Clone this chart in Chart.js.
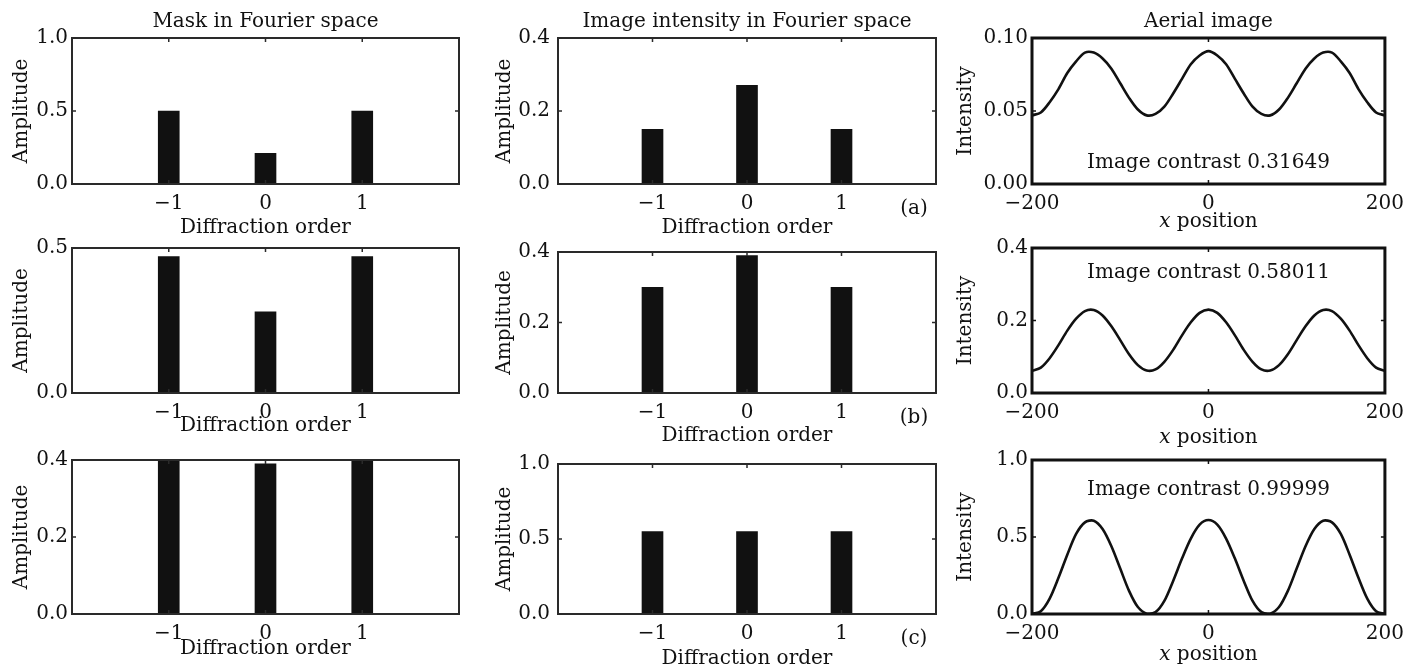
<!DOCTYPE html>
<html>
<head>
<meta charset="utf-8">
<title>Mask, image intensity and aerial image</title>
<script src="https://cdn.jsdelivr.net/npm/chart.js@4.4.1/dist/chart.umd.min.js"></script>
<style>
  html, body { margin: 0; padding: 0; background: #fff; }
  #wrap { position: relative; width: 1404px; height: 669px; overflow: hidden; }
  #wrap canvas { position: absolute; }
</style>
</head>
<body>
<div id="wrap"></div>
<script>
// diffraction orders and bar heights
const orders = [-1, 0, 1];
const orderTicks = [-1, 0, 1];

const maskA = [0.50, 0.21, 0.50];
const maskB = [0.47, 0.28, 0.47];
const maskC = [0.41, 0.39, 0.41];   // outer bars run past the top of the 0.4 axis

const spectrumA = [0.15, 0.27, 0.15];
const spectrumB = [0.30, 0.39, 0.30];
const spectrumC = [0.55, 0.55, 0.55];

// aerial image, sampled every 10 units of x
const xPos = [-200, -190, -180, -170, -160, -150, -140, -130, -120, -110, -100,
  -90, -80, -70, -60, -50, -40, -30, -20, -10, 0, 10, 20, 30, 40, 50, 60, 70, 80, 90,
  100, 110, 120, 130, 140, 150, 160, 170, 180, 190, 200];
const xTicks = [-200, 0, 200];

const aerialA = [0.047, 0.049, 0.056, 0.065, 0.076, 0.084, 0.090, 0.090, 0.086, 0.079, 0.069,
  0.059, 0.051, 0.047, 0.048, 0.053, 0.062, 0.072, 0.082, 0.088, 0.091, 0.088, 0.082, 0.072,
  0.062, 0.053, 0.048, 0.047, 0.051, 0.059, 0.069, 0.079, 0.086, 0.090, 0.090, 0.084, 0.076,
  0.065, 0.056, 0.049, 0.047];
const aerialB = [0.061, 0.070, 0.096, 0.132, 0.172, 0.205, 0.226, 0.229, 0.214, 0.184, 0.146,
  0.107, 0.077, 0.062, 0.065, 0.086, 0.119, 0.159, 0.195, 0.221, 0.230, 0.221, 0.195, 0.159,
  0.119, 0.086, 0.065, 0.062, 0.077, 0.107, 0.146, 0.184, 0.214, 0.229, 0.226, 0.205, 0.172,
  0.132, 0.096, 0.070, 0.061];
const aerialC = [0.000, 0.018, 0.100, 0.235, 0.385, 0.520, 0.595, 0.606, 0.552, 0.440, 0.295,
  0.150, 0.045, 0.002, 0.012, 0.085, 0.215, 0.360, 0.490, 0.580, 0.610, 0.580, 0.490, 0.360,
  0.215, 0.085, 0.012, 0.002, 0.045, 0.150, 0.295, 0.440, 0.552, 0.606, 0.595, 0.520, 0.385,
  0.235, 0.100, 0.018, 0.000];

const contrasts = ["0.31649", "0.58011", "0.99999"];
const tags = ["(a)", "(b)", "(c)"];

const yTicksMaskA = [0, 0.5, 1.0];
const yTicksMaskB = [0, 0.5];
const yTicksMaskC = [0, 0.2, 0.4];
const yTicksSpecA = [0, 0.2, 0.4];
const yTicksSpecB = [0, 0.2, 0.4];
const yTicksSpecC = [0, 0.5, 1.0];
const yTicksAerA = [0, 0.05, 0.10];
const yTicksAerB = [0, 0.2, 0.4];
const yTicksAerC = [0, 0.5, 1.0];

// ---- layout (pixels) ----
const FAMILY = "'DejaVu Serif', serif";
const SIZE = 20;
const LH = SIZE * 1.2;
const FONT = SIZE + "px " + FAMILY;
const INK = "#111";

const cols = [
  { plotL: 72, plotR: 459, yTitleX: 22, yPad: 4 },
  { plotL: 558, plotR: 936, yTitleX: 505, yPad: 8 },
  { plotL: 1032, plotR: 1387, yTitleX: 966, yPad: 4 }
];
const rows = [
  { plotT: 38, plotB: 184 },
  { plotT: 248, plotB: 393 },
  { plotT: 460, plotB: 614 }
];
const xTitleY = [[228, 228, 222], [426, 436, 438], [649, 659, 655]];
const colTitles = ["Mask in Fourier space", "Image intensity in Fourier space", "Aerial image"];

function fmtSigned(v) {
  return v < 0 ? "\u2212" + Math.abs(v) : String(v);
}

const decor = {
  id: "decor",
  afterDatasetsDraw(chart, args, o) {
    const ctx = chart.ctx, a = chart.chartArea;
    const sx = chart.scales.x, sy = chart.scales.y;
    ctx.save();
    ctx.strokeStyle = o.frameColor;
    ctx.lineWidth = o.frameWidth;
    ctx.strokeRect(a.left, a.top, a.right - a.left, a.bottom - a.top);
    // small inward ticks on all four sides
    ctx.lineWidth = 1.5;
    ctx.beginPath();
    sx.ticks.forEach(t => {
      const p = sx.getPixelForValue(t.value);
      ctx.moveTo(p, a.bottom); ctx.lineTo(p, a.bottom - 4);
      ctx.moveTo(p, a.top); ctx.lineTo(p, a.top + 4);
    });
    sy.ticks.forEach(t => {
      const p = sy.getPixelForValue(t.value);
      ctx.moveTo(a.left, p); ctx.lineTo(a.left + 4, p);
      ctx.moveTo(a.right, p); ctx.lineTo(a.right - 4, p);
    });
    ctx.stroke();

    ctx.fillStyle = INK;
    ctx.textBaseline = "middle";
    ctx.textAlign = "center";
    ctx.font = FONT;
    if (o.note) {
      ctx.fillText(o.note.text, sx.getPixelForValue(o.note.x), sy.getPixelForValue(o.note.y));
    }
    if (o.tag) {
      ctx.fillText(o.tag, a.right - 22, a.bottom + 25);
    }
    if (o.italicTitleY) {
      // "x position" with an italic x
      ctx.textAlign = "left";
      ctx.font = "italic " + FONT;
      const w1 = ctx.measureText("x").width;
      ctx.font = FONT;
      const w2 = ctx.measureText(" position").width;
      const x0 = (a.left + a.right) / 2 - (w1 + w2) / 2;
      ctx.font = "italic " + FONT;
      ctx.fillText("x", x0, o.italicTitleY);
      ctx.font = FONT;
      ctx.fillText(" position", x0 + w1, o.italicTitleY);
    }
    ctx.restore();
  }
};

const panels = [
  { r: 0, c: 0, kind: "bar", vals: maskA, yMax: 1.0, yTicks: yTicksMaskA, dec: 1 },
  { r: 0, c: 1, kind: "bar", vals: spectrumA, yMax: 0.4, yTicks: yTicksSpecA, dec: 1 },
  { r: 0, c: 2, kind: "line", vals: aerialA, yMax: 0.10, yTicks: yTicksAerA, dec: 2, noteY: 0.0145 },
  { r: 1, c: 0, kind: "bar", vals: maskB, yMax: 0.5, yTicks: yTicksMaskB, dec: 1 },
  { r: 1, c: 1, kind: "bar", vals: spectrumB, yMax: 0.4, yTicks: yTicksSpecB, dec: 1 },
  { r: 1, c: 2, kind: "line", vals: aerialB, yMax: 0.4, yTicks: yTicksAerB, dec: 1, noteY: 0.331 },
  { r: 2, c: 0, kind: "bar", vals: maskC, yMax: 0.4, yTicks: yTicksMaskC, dec: 1 },
  { r: 2, c: 1, kind: "bar", vals: spectrumC, yMax: 1.0, yTicks: yTicksSpecC, dec: 1 },
  { r: 2, c: 2, kind: "line", vals: aerialC, yMax: 1.0, yTicks: yTicksAerC, dec: 1, noteY: 0.805 }
];

const wrap = document.getElementById("wrap");
Chart.defaults.font.family = FAMILY;
Chart.defaults.font.size = SIZE;
Chart.defaults.color = INK;

panels.forEach(p => {
  const col = cols[p.c], row = rows[p.r];
  const padTop = p.r === 0 ? 0 : 16;
  const padRight = 25;
  const cx = Math.round(col.yTitleX - LH / 2);
  const cy = p.r === 0 ? 0 : row.plotT - padTop;
  const bottom = Math.round(xTitleY[p.r][p.c] + LH / 2);
  const cw = col.plotR + padRight - cx;
  const ch = bottom - cy;
  const yW = col.plotL - cx;
  const xH = bottom - row.plotB;

  const canvas = document.createElement("canvas");
  canvas.width = cw;
  canvas.height = ch;
  canvas.style.left = cx + "px";
  canvas.style.top = cy + "px";
  canvas.style.width = cw + "px";
  canvas.style.height = ch + "px";
  wrap.appendChild(canvas);

  const isBar = p.kind === "bar";
  const dataset = isBar
    ? {
        data: orders.map((o, i) => ({ x: o, y: p.vals[i] })),
        backgroundColor: INK,
        barThickness: 21,
        clip: 0
      }
    : {
        data: xPos.map((x, i) => ({ x: x, y: p.vals[i] })),
        borderColor: INK,
        borderWidth: 2.6,
        pointRadius: 0,
        tension: 0.3,
        fill: false
      };

  const xTickVals = isBar ? orderTicks : xTicks;

  new Chart(canvas.getContext("2d"), {
    type: isBar ? "bar" : "line",
    data: { datasets: [dataset] },
    options: {
      responsive: false,
      animation: false,
      events: [],
      layout: { padding: { top: padTop, right: padRight, left: 0, bottom: 0 } },
      plugins: {
        legend: { display: false },
        tooltip: { enabled: false },
        title: {
          display: p.r === 0,
          text: colTitles[p.c],
          fullSize: false,
          color: INK,
          font: { family: FAMILY, size: SIZE, weight: "normal" },
          padding: { top: 22 - LH / 2, bottom: 38 - (22 - LH / 2) - LH }
        },
        decor: {
          frameColor: isBar ? "#2a2a2a" : "#111",
          frameWidth: isBar ? 2 : 3,
          note: p.noteY !== undefined ? { text: "Image contrast " + contrasts[p.r], x: 0, y: p.noteY } : null,
          tag: p.c === 1 ? tags[p.r] : null,
          italicTitleY: p.c === 2 ? xTitleY[p.r][p.c] - cy : null
        }
      },
      scales: {
        x: {
          type: "linear",
          offset: false,
          min: isBar ? -2 : -200,
          max: isBar ? 2 : 200,
          afterBuildTicks: s => { s.ticks = xTickVals.map(v => ({ value: v })); },
          afterFit: s => { s.height = xH; },
          grid: { display: false, drawTicks: false },
          border: { display: false },
          ticks: {
            padding: 8,
            maxRotation: 0,
            autoSkip: false,
            color: INK,
            font: { family: FAMILY, size: SIZE },
            callback: v => fmtSigned(v)
          },
          title: {
            display: isBar,
            text: "Diffraction order",
            color: INK,
            font: { family: FAMILY, size: SIZE },
            padding: 0
          }
        },
        y: {
          min: 0,
          max: p.yMax,
          afterBuildTicks: s => { s.ticks = p.yTicks.map(v => ({ value: v })); },
          afterFit: s => { s.width = yW; },
          grid: { display: false, drawTicks: false },
          border: { display: false },
          ticks: {
            padding: col.yPad,
            color: INK,
            font: { family: FAMILY, size: SIZE },
            callback: v => Number(v).toFixed(p.dec)
          },
          title: {
            display: true,
            text: isBar ? "Amplitude" : "Intensity",
            color: INK,
            font: { family: FAMILY, size: SIZE },
            padding: 0
          }
        }
      }
    },
    plugins: [decor]
  });
});
</script>
</body>
</html>
